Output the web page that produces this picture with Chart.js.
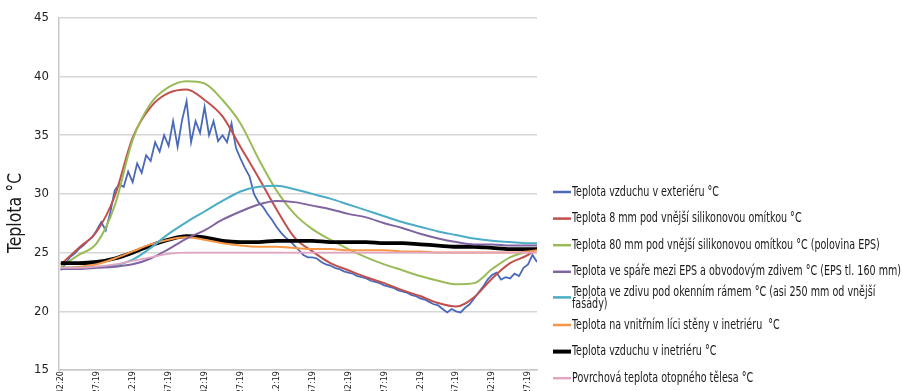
<!DOCTYPE html>
<html>
<head>
<meta charset="utf-8">
<script src="https://cdn.jsdelivr.net/npm/chart.js@4.4.1/dist/chart.umd.min.js"></script>
<style>
  html, body { margin: 0; padding: 0; background: #fff; overflow: hidden; }
  #wrap { width: 903px; height: 391px; overflow: hidden; position: relative; }
  #c { display: block; }
</style>
</head>
<body>
<div id="wrap"><canvas id="c" width="903" height="392"></canvas></div>
<script>
// ---- data -------------------------------------------------------------
// time-of-record tick labels (one every tick interval)
const tickLabels = ['42:20', '27:19', '12:19', '57:19', '42:19', '27:19', '12:19',
                    '57:19', '42:19', '27:19', '12:19', '57:19', '42:19', '27:19'];

// sampling instants, in tick intervals
const coarseTimes = [0, 0.5, 1, 1.5, 2, 2.5, 3, 3.5, 4, 4.5, 5, 5.5, 6, 6.5, 7, 7.5,
                     8, 8.5, 9, 9.5, 10, 10.5, 11, 11.5, 12, 12.5, 13, 13.25];
const fineTimes = [0, 0.125, 0.25, 0.375, 0.5, 0.625, 0.75, 0.875, 1, 1.125, 1.25, 1.375,
                   1.5, 1.625, 1.75, 1.875, 2, 2.125, 2.25, 2.375, 2.5, 2.625, 2.75, 2.875,
                   3, 3.125, 3.25, 3.375, 3.5, 3.625, 3.75, 3.875, 4, 4.125, 4.25, 4.375,
                   4.5, 4.625, 4.75, 4.875, 5, 5.125, 5.25, 5.375, 5.5, 5.625, 5.75, 5.875,
                   6, 6.125, 6.25, 6.375, 6.5, 6.625, 6.75, 6.875, 7, 7.125, 7.25, 7.375,
                   7.5, 7.625, 7.75, 7.875, 8, 8.125, 8.25, 8.375, 8.5, 8.625, 8.75, 8.875,
                   9, 9.125, 9.25, 9.375, 9.5, 9.625, 9.75, 9.875, 10, 10.125, 10.25, 10.375,
                   10.5, 10.625, 10.75, 10.875, 11, 11.125, 11.25, 11.375, 11.5, 11.625, 11.75, 11.875,
                   12, 12.125, 12.25, 12.375, 12.5, 12.625, 12.75, 12.875, 13, 13.125, 13.25];

// exterior air temperature (fine sampling)
const airExterior = [23.5, 24.0, 24.6, 24.9, 25.3, 25.6, 26.0, 26.3, 26.9, 27.6, 26.9, 28.4,
                     30.3, 30.8, 30.6, 31.9, 31.0, 32.6, 31.8, 33.3, 32.8, 34.4, 33.6, 35.0,
                     34.1, 36.2, 34.0, 36.3, 37.9, 34.4, 36.2, 35.2, 37.4, 35.0, 36.2, 34.5,
                     35.0, 34.4, 36.0, 33.9, 33.0, 32.2, 31.5, 30.0, 29.3, 28.9, 28.3, 27.8,
                     27.2, 26.7, 26.3, 26.0, 25.6, 25.2, 24.8, 24.6, 24.6, 24.5, 24.2, 24.0,
                     23.9, 23.7, 23.6, 23.4, 23.3, 23.2, 23.0, 22.9, 22.8, 22.6, 22.5, 22.4,
                     22.2, 22.1, 22.0, 21.8, 21.7, 21.6, 21.4, 21.3, 21.1, 21.0, 20.8, 20.6,
                     20.5, 20.2, 19.9, 20.2, 20.0, 19.9, 20.3, 20.6, 21.1, 21.6, 22.1, 22.7,
                     23.1, 23.3, 22.7, 22.9, 22.8, 23.2, 23.0, 23.7, 24.0, 24.8, 24.2];

// remaining series (coarse sampling)
const render8mm     = [24.0, 25.4, 26.8, 29.8, 34.8, 37.4, 38.6, 38.9, 38.0, 36.6, 34.0, 31.4, 28.7, 26.3,
                       25.1, 24.1, 23.5, 22.9, 22.4, 21.8, 21.3, 20.7, 20.4, 21.2, 22.8, 24.1, 24.8, 25.4];
const eps80mm       = [23.8, 24.8, 25.8, 29.0, 34.6, 37.7, 39.1, 39.6, 39.4, 38.0, 36.0, 33.0, 30.3, 28.3,
                       27.0, 26.1, 25.3, 24.6, 24.0, 23.5, 23.0, 22.6, 22.3, 22.4, 23.6, 24.6, 25.1, 25.3];
const epsJoint      = [23.6, 23.6, 23.7, 23.8, 24.0, 24.5, 25.3, 26.2, 26.9, 27.8, 28.5, 29.1, 29.4, 29.3,
                       29.0, 28.7, 28.3, 28.0, 27.5, 27.1, 26.6, 26.2, 25.9, 25.7, 25.7, 25.6, 25.6, 25.6];
const masonry       = [23.7, 23.7, 23.8, 23.9, 24.4, 25.4, 26.6, 27.6, 28.5, 29.4, 30.2, 30.6, 30.7, 30.4,
                       30.0, 29.6, 29.1, 28.6, 28.1, 27.6, 27.2, 26.8, 26.5, 26.2, 26.0, 25.9, 25.8, 25.8];
const innerSurface  = [23.7, 23.8, 24.0, 24.5, 25.1, 25.7, 26.1, 26.3, 26.1, 25.8, 25.6, 25.5, 25.5, 25.4,
                       25.3, 25.3, 25.2, 25.2, 25.2, 25.1, 25.1, 25.0, 25.0, 25.0, 25.0, 25.0, 25.1, 25.2];
const airInterior   = [24.1, 24.1, 24.2, 24.5, 25.0, 25.6, 26.1, 26.4, 26.3, 26.0, 25.9, 25.9, 26.0, 26.0,
                       26.0, 25.9, 25.9, 25.9, 25.8, 25.8, 25.7, 25.6, 25.5, 25.5, 25.4, 25.3, 25.3, 25.3];
const radiator      = [23.7, 23.7, 23.8, 24.0, 24.3, 24.6, 24.9, 25.0, 25.0, 25.0, 25.0, 25.0, 25.0, 25.0,
                       25.0, 25.0, 25.0, 25.0, 25.0, 25.0, 25.0, 25.0, 25.0, 25.0, 25.0, 25.0, 25.0, 25.0];

const seriesNames = [
  'Teplota vzduchu v exteriéru °C',
  'Teplota 8 mm pod vnější silikonovou omítkou °C',
  'Teplota 80 mm pod vnější silikonovou omítkou °C (polovina EPS)',
  'Teplota ve spáře mezi EPS a obvodovým zdivem °C (EPS tl. 160 mm)',
  'Teplota ve zdivu pod okenním rámem °C (asi 250 mm od vnější\nfasády)',
  'Teplota na vnitřním líci stěny v inetriéru  °C',
  'Teplota vzduchu v inetriéru °C',
  'Povrchová teplota otopného tělesa °C'
];

// ---- styling ----------------------------------------------------------
const FONT = "'Liberation Sans Narrow', 'DejaVu Sans Condensed', 'Liberation Sans', sans-serif";
const colors = ['#4a69b8', '#c0504d', '#9bbb59', '#8064a2', '#4bacc6', '#f79646', '#000000', '#e3a6c2'];
const widths = [1.8, 2, 2, 2, 2, 2, 3.8, 1.8];

const pair = (times, vals) => vals.map((v, i) => ({ x: times[i], y: v }));
const seriesData = [
  pair(fineTimes, airExterior),
  pair(coarseTimes, render8mm),
  pair(coarseTimes, eps80mm),
  pair(coarseTimes, epsJoint),
  pair(coarseTimes, masonry),
  pair(coarseTimes, innerSurface),
  pair(coarseTimes, airInterior),
  pair(coarseTimes, radiator)
];

// draw order: thin flat lines first, interior air above them, outer layers on top
const drawOrder = [7, 3, 4, 5, 6, 2, 1, 0];

const datasets = seriesData.map((d, i) => ({
  label: seriesNames[i],
  data: d,
  borderColor: colors[i],
  backgroundColor: colors[i],
  borderWidth: widths[i],
  pointRadius: 0,
  tension: i === 0 ? 0 : 0.4,
  cubicInterpolationMode: i === 0 ? 'default' : 'monotone',
  order: drawOrder.indexOf(i)
}));

// narrow text: squeeze a regular face horizontally
function squeezedText(ctx, text, x, y, sx) {
  ctx.save();
  ctx.translate(x, y);
  ctx.scale(sx, 1);
  ctx.fillText(text, 0, 0);
  ctx.restore();
}

// legend on the right, with a hand-wrapped entry
const sideLegend = {
  id: 'sideLegend',
  afterDraw(chart) {
    const ctx = chart.ctx;
    ctx.save();
    ctx.font = "13.5px " + FONT;
    ctx.fillStyle = '#1a1a1a';
    ctx.textBaseline = 'middle';
    ctx.textAlign = 'left';
    const mx = 553, tx = 572;
    const widest = chart.data.datasets[3].label;
    const sx = 329 / ctx.measureText(widest).width;
    const y0 = 192, step = 26.6, lh = 12.5;
    chart.data.datasets.forEach((ds, i) => {
      const cy = y0 + i * step;
      const lines = ds.label.split('\n');
      ctx.strokeStyle = ds.borderColor;
      ctx.lineWidth = i === 6 ? 4 : 2.5;
      const my = lines.length > 1 ? cy - 1 : cy;
      ctx.beginPath();
      ctx.moveTo(mx, my);
      ctx.lineTo(tx - 1, my);
      ctx.stroke();
      lines.forEach((ln, k) => {
        squeezedText(ctx, ln, tx, cy - (lines.length - 1) * lh / 2 + k * lh, sx);
      });
    });
    ctx.restore();
  }
};

// vertical axis title
const yTitle = {
  id: 'yTitle',
  afterDraw(chart) {
    const ctx = chart.ctx;
    ctx.save();
    ctx.translate(16, 213);
    ctx.rotate(-Math.PI / 2);
    ctx.font = "20px " + FONT;
    ctx.fillStyle = '#1a1a1a';
    ctx.textAlign = 'center';
    ctx.textBaseline = 'middle';
    const t = 'Teplota °C';
    squeezedText(ctx, t, 0, 0, 80 / ctx.measureText(t).width);
    ctx.restore();
  }
};

Chart.defaults.font.family = FONT;

new Chart(document.getElementById('c'), {
  type: 'line',
  data: { datasets },
  options: {
    responsive: false,
    animation: false,
    events: [],
    layout: { padding: { left: 0, right: 366, top: 11, bottom: 0 } },
    plugins: { legend: { display: false }, tooltip: { enabled: false } },
    scales: {
      x: {
        type: 'linear',
        min: -0.05,
        max: 13.25,
        afterBuildTicks(scale) {
          scale.ticks = tickLabels.map((_, i) => ({ value: i }));
        },
        afterFit(scale) { scale.height = 22; },
        ticks: {
          autoSkip: false,
          minRotation: 90,
          maxRotation: 90,
          padding: 1,
          color: '#222',
          font: { size: 9 },
          callback: (v) => tickLabels[v] ?? ''
        },
        grid: { display: false, drawTicks: false },
        border: { display: true, color: '#c8c8c8', width: 1.5 }
      },
      y: {
        min: 15,
        max: 45,
        afterFit(scale) { scale.width = 59; },
        ticks: {
          stepSize: 5,
          padding: 10,
          color: '#222',
          font: { size: 13 }
        },
        grid: { color: '#d6d6d6', lineWidth: 1.5, drawTicks: false },
        border: { display: true, color: '#c8c8c8', width: 1.5 }
      }
    }
  },
  plugins: [sideLegend, yTitle]
});
</script>
</body>
</html>
